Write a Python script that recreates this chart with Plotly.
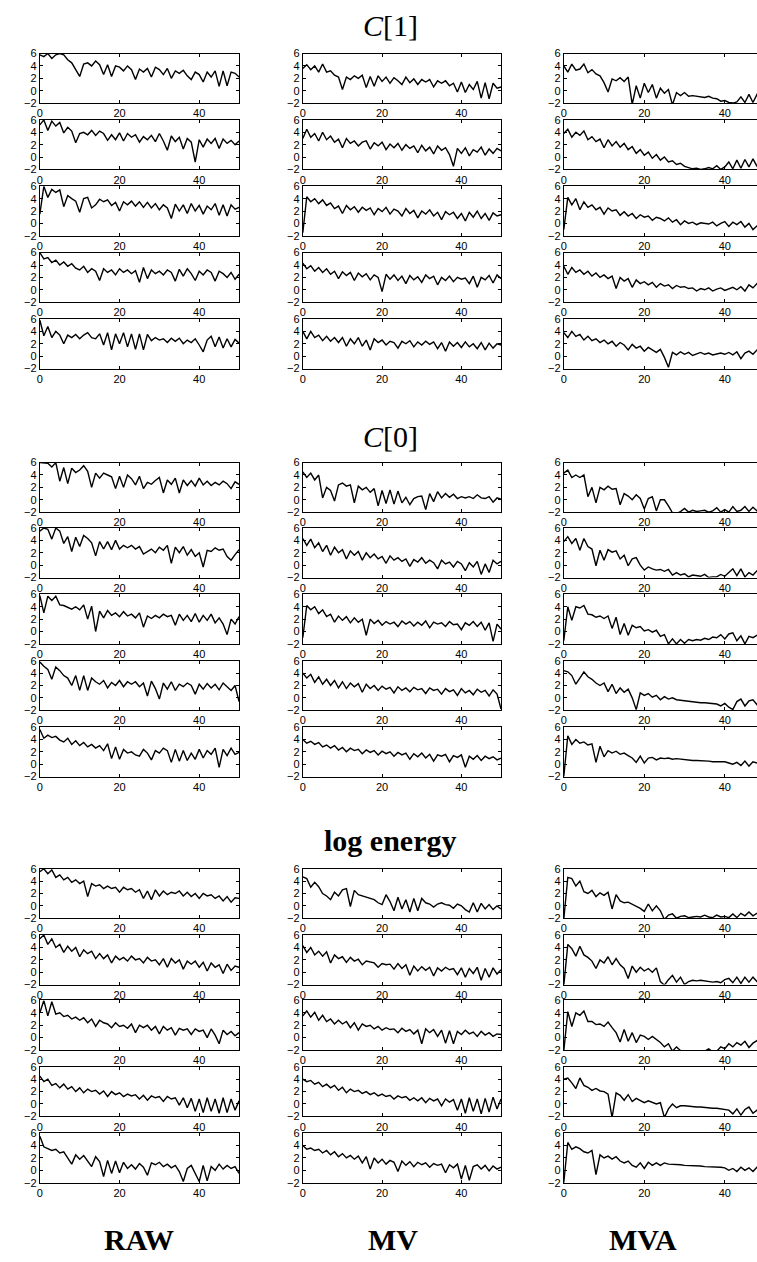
import plotly.graph_objects as go

x_vals = list(range(51))
x_ticks = [0, 20, 40]
y_ticks = [-2, 0, 2, 4, 6]

group_titles = ["<i>C</i>[1]", "<i>C</i>[0]", "<b>log energy</b>"]
column_labels = ["<b>RAW</b>", "<b>MV</b>", "<b>MVA</b>"]

# ---------------- C[1] ----------------
c1_raw = [
    [5.8,5.5,6,5.2,5.8,6,5.8,5,4.5,3.5,2.3,4.3,4.5,4,4.8,4.2,2.6,4.2,2.3,4,3.8,3.2,4,3.4,1.8,3.5,3,3.6,2.2,3.8,3.4,2.6,3.6,2,3.2,2.8,3.3,2.4,1.8,3,2.6,1.4,3,2.2,3.2,0.7,3.2,0.8,3,2.8,2.2],
    [5.2,6,4.3,5.8,5,5.6,3.9,4.8,4.2,2.3,3.8,4,3.6,4.3,3.5,4.2,3.8,2.7,3.6,2.8,3.9,2.6,3.8,3.2,3.6,2.4,3.3,2.8,3.5,2.5,3.8,2.6,1.1,3.4,2.5,3.2,1.3,3,2.4,-0.8,2.8,1.6,2.9,2.2,3,1.4,2.9,2.2,2.7,2,2.6],
    [1.5,6,4.2,5.5,5,5.4,2.7,4.5,4,3.6,1.8,4,4.2,2.5,3,3.9,3.5,3.8,2.9,3.4,2,3.5,3,3.6,2.8,3.5,2.6,3.4,2.5,3.2,2.2,3,2.5,0.8,3.1,2,3,1.6,3.2,2,2.9,1.5,2.8,2.2,3.2,1.3,3,1.2,3,2.3,2.6],
    [6,5,5.2,4.4,4.8,4,4.5,3.8,4.2,3.5,3.2,3.8,2.8,3.4,3,1.5,3.4,2.8,3.2,2.4,3.4,2.8,3.2,2.6,3.1,1.2,3.6,1.8,3.2,2.6,3,2.4,3.2,2.8,1.4,3.3,2.2,3.4,2.6,1.5,3,2.4,3.2,2.8,1.4,3,2.6,2,2.8,1.7,2.5],
    [5.8,3.3,4.8,3,4,3.4,2,3.4,3,3.5,2.8,3.4,3.8,3,2.8,3.6,1.8,3.8,1,3.6,2,3.8,1.5,3.6,1.1,3.6,1,3.5,2.5,3,2.6,2.8,2.2,2.9,2.4,2.9,2,2.6,2.2,2.8,1.8,0.7,2.6,3.2,1.5,3.1,1.3,2.8,1.5,2.7,2.1],
]
c1_mv = [
    [3.6,4.2,3.4,4,3,4.3,3,3.2,2.5,2.2,0.2,2.2,1.8,2.4,2,2.5,0.5,2.3,0.7,2.4,1.5,2.2,1.2,2.1,1.6,1,2.2,1.3,1.9,1,1.8,1.4,1.8,0.6,1.6,1.2,1.6,0.8,1.2,-0.2,1.4,-0.3,1,0.2,1.5,-1.2,1.3,-1.3,1.2,0.4,0.6],
    [3,4.5,3.2,3.8,2.6,4,2.8,3.4,2.4,2.9,1.5,3,2.2,2.6,1.8,2.4,2.6,1.3,2.3,1.8,2.4,1.2,2.1,1.5,2.2,1.1,2,1.4,1.8,0.7,1.9,1,1.6,0.5,1.8,1.1,1.5,0.4,-1.5,1.4,0.6,1.5,0.2,1.2,0.8,1.6,0.3,1.3,0.6,1.4,1],
    [-1.5,4.3,3.5,4,3.2,3.8,2.9,3.3,2.4,2.8,1.6,2.9,2.2,2.7,1.8,2.6,2.1,2.5,1.4,2.4,1.9,2.6,1.5,2.3,2,1.2,2.4,1.6,2.1,0.9,2,1.5,2.2,1.2,1.8,0.6,1.9,1.4,1.8,0.8,1.6,0.4,1.8,1,2,0.8,1.6,0.5,1.7,1.2,1.4],
    [4.3,3.4,3.9,3,3.6,2.8,3.4,2.5,3,1.8,2.9,2.3,2.8,1.5,2.7,2.1,2.6,1.6,2.4,2,-0.3,2.5,1.7,2.4,1.5,2.2,1,2.3,1.6,2.1,1.2,2.4,1.8,2.2,0.8,2,1.5,2.2,1.3,2,1.7,1.9,1,2.2,0.4,2,1.6,2.3,1.1,2.4,1.8],
    [4,2.8,4,3,3.4,2.5,3.2,2.4,3,2.2,3,1.6,2.8,2,3,1.6,2.6,1,2.8,2.2,2.6,1.8,2.4,2.2,1.3,2.4,2,2.5,1.5,2.3,1.8,2.4,1.9,2.3,1.2,2.2,0.8,2.3,1.6,2.2,1.4,2.3,1.5,2,1.2,2.2,1,2.1,1.3,2,1.8],
]
c1_mva = [
    [4,3,4.3,3.3,3.5,4.3,2.9,3.4,2.7,2.4,1.3,-0.2,1.9,1.6,2.1,1.5,2.2,-2.2,0.8,-1.2,1.2,-0.3,1,-1.2,0.4,-0.4,0.2,-2.3,-0.3,-0.8,-0.3,-0.9,-0.8,-0.9,-0.9,-1.1,-0.9,-1.2,-1.3,-1.7,-1.6,-1.9,-2,-1.8,-1,-1.9,-0.6,-1.9,-0.6,-1.5,-0.7],
    [3.8,4.5,3.2,4,3.5,4.2,2.8,3.3,2.5,2.9,1.5,2.8,1.8,2.5,1.6,2.2,1.2,1.7,0.6,1.2,0.3,0.8,-0.2,0.4,-0.5,0,-0.8,-0.6,-1.2,-1,-1.5,-1.7,-1.9,-1.8,-2,-1.9,-1.7,-1.9,-1.4,-2,-1.6,-0.8,-1.9,-0.5,-1.8,-0.4,-1.6,-0.3,-1.5,-0.2,-0.8],
    [-1,4.2,3,4,2.2,3.5,2.6,3,2.2,2.6,1.5,2.5,2,2.2,1.3,1.9,1.2,1.6,0.8,1.4,1,1.2,0.5,1,0.8,0.4,0.9,0.2,0.6,-0.2,0.4,0,0.2,-0.2,0.1,0,-0.1,0.2,-0.4,0,0.3,-0.5,0.2,-0.2,0.3,-0.6,0,-1,-0.4,-1,-0.8],
    [3.8,2.5,3.6,2.8,3.2,2.5,3,2.2,2.7,2,2.4,1.8,2.2,0.2,2,1.4,1.8,0.4,1.6,1,1.3,0.8,1.2,0.4,1,0.6,0.8,0.2,0.7,0.4,0.5,0.2,0.3,-0.2,0.2,0,0.3,-0.2,0.1,0.3,-0.1,0.2,0.4,0,0.5,-0.2,0.8,0.3,1,0.2,0.7],
    [3.8,3,4,3.2,3.5,2.6,3.2,2.5,2.8,2.2,2.6,2,2.4,1.6,2.2,1.8,1,1.9,1.3,1.6,0.8,1.4,1,0.6,1.1,-0.2,-1.8,0.6,0.2,0.7,0.3,0.6,0.1,0.4,0.6,0.3,0.5,0.2,0.4,0.5,0.3,0.6,0.2,0.7,-0.4,0.5,0.8,0.3,1,0.2,0.6],
]

# ---------------- C[0] ----------------
c0_raw = [
    [6,6,5.9,5.3,6,3,5.2,2.6,5.1,4.4,4.8,5.5,4.6,2,4.3,3.5,4.3,4,3.7,1.8,3.8,2,4,3.4,2.4,3.8,1.8,2.8,2.5,3.1,3.6,1.1,3.2,2.5,3.5,1.1,3.2,2.3,3.1,2.2,3.5,2.4,3,2.3,2.8,2.4,3,2.6,1.8,2.9,2.5],
    [5.5,6,5.8,4.2,6,5.5,3.5,4.6,2.2,4.5,3,4.8,4.3,3.6,1.5,3.8,2.6,3.8,2.5,4,2.6,3.2,2.8,3.2,2.6,3,1.8,2.2,2.6,2,2.9,2.4,3.2,0.3,2.9,2,3,1.6,2.5,1.4,2,-0.3,2.4,2.2,2.8,2.4,2.6,1.4,0.8,1.7,2.5],
    [5.8,3,5.7,5,5.7,4.3,4.2,3.9,3.6,4,3.5,4.3,2,4.1,0,3.3,2.2,3.4,2.6,3,2.4,3.2,2.5,2.8,2.2,3,0.7,2.5,2.1,2.6,2.2,2.8,2.4,2.6,1,2.8,1.8,2.6,1.6,2.9,1.5,2.6,1.8,2.8,1.4,2.2,1.2,-0.5,2,1.2,2.4],
    [5.8,5.1,4.6,3,5,4.4,3.6,3.2,2,3.6,1.2,3.6,1.2,3.2,2.6,2.2,2.8,1.6,2.5,2,2.8,1.8,2.6,2.2,2.6,1.8,2.4,0.3,2.7,1.5,-0.2,2.4,1.4,2.6,1.2,2.2,1.8,2.4,2,0.6,2.2,1.4,2.3,1.6,2.2,1.3,2.4,1.8,1.2,2,-0.6],
    [5.6,4.2,4.7,4.3,4.5,3.9,3.6,4.2,3.2,3.8,3,3.5,2.8,3.2,2.6,3,2.2,3.3,0.9,2.8,0.8,2.4,1.8,2,1.5,1.3,2.4,1.8,0.7,2.2,1.8,2.6,2.2,0.3,2.4,0.5,2.2,0.6,1.8,0.8,2.4,1,2.2,1.6,2.6,-0.5,2.4,1.4,2.6,1.6,1.9],
]
c0_mv = [
    [4.5,3.6,4.3,3.2,4,0.3,2,1.5,-0.2,2.4,2.7,2.2,2.4,-0.5,2.2,1.6,2,1.2,1.8,-1,1.5,-0.6,1.6,-0.7,1.4,-0.5,0.4,-0.8,0.2,0.5,0.6,-1.6,1,-0.3,1.3,0.3,1,0.4,0.9,0.2,0.5,0.3,0.5,0.2,0.8,0.3,0.2,0.5,-0.4,0.3,0.1],
    [4.3,3.2,4.2,2.8,3.6,2.2,3.2,1.6,2.9,2,2.5,1,2.3,1.6,2.2,0.8,2,1.2,1.8,1,1.4,0.3,1.5,0.8,1.2,0.6,1,-0.2,0.9,0.5,1.2,0.3,0.8,0.4,-0.6,0.8,0.2,0.5,-0.3,0.6,0.2,-0.9,0.4,-0.3,0.6,-1.5,0.2,-1.2,0.8,0.2,0.6],
    [-1,4.2,3.5,4,2.9,3.5,2.4,2.8,1.5,2.5,1.8,2.4,1.4,2.2,1.5,2,-0.6,2,1.3,1.8,1,1.6,1.2,1.5,0.8,1.7,1.2,1.6,0.9,1.5,1,1.7,0.6,1.5,1.2,1.4,0.8,1.6,1.1,1.2,0.3,1.4,1,1.6,0.8,1.5,0.2,1.4,-1.6,1.2,0.4],
    [4,3.2,3.8,2.5,3.4,2.2,3,2,2.8,1.6,2.6,1.5,2.4,1.8,2.3,0.9,2.2,1.5,2,1.2,1.9,1.4,1.7,0.8,1.8,1.2,1.6,1,1.7,1.3,1.5,0.7,1.6,1.2,1.4,0.6,1.5,1,1.3,0.4,1.5,0.8,1.2,0.5,1.4,0.9,1.2,0.3,1.3,0.6,-1.8],
    [4,3.4,3.7,3.2,3.5,2.8,3.1,2.6,3,2.3,2.7,2,2.6,2.2,2.4,1.7,2.3,1.9,2.2,1.5,2.1,1.7,2,1.3,1.9,1.5,1.8,0.8,1.7,1.2,1.8,1,1.6,0.5,1.5,1.3,1.6,0.4,1.4,1.1,1.5,-0.5,1.3,0.8,1.4,0.6,1.3,0.9,1.2,0.7,1],
]
c0_mva = [
    [4.3,4.8,3.6,4,3.6,4,0.5,2,-0.5,2,1.6,2.2,1.7,1.8,-0.8,1,0.6,0,0.8,0.2,-1.5,0.2,0.5,-1.8,0,0,-1,-2.1,-2.2,-1.9,-1.4,-2,-1.7,-1.9,-1.8,-1.7,-2,-1.8,-1.3,-2,-1.6,-2,-1.1,-1.9,-1.7,-1.1,-1.9,-1.2,-1.8,-1.4,-1.5],
    [3.8,4.6,3.5,4.3,2.4,4.3,3,2.6,-0.1,2.4,0.8,2.5,2.1,2.3,1,1.6,-0.1,1,1.2,0,-0.8,-0.3,-0.6,-0.8,-0.7,-1,-0.7,-1.6,-1.2,-1.6,-1.4,-1.9,-1.6,-1.7,-1.8,-1.5,-2,-1.9,-1.9,-1.5,-1.8,-1.2,-0.6,-1.7,-0.6,-1.9,-1.2,-1.6,-0.9,-1.7,-1.6],
    [-1.5,4,1.8,4,3.8,4.2,2.8,2.7,2.3,2.5,2.1,2.5,0.5,2.3,-0.5,1.3,-0.6,1,0.6,0.8,0.1,0.3,-0.1,0.2,-0.8,-0.5,-2,-1.2,-2,-1.3,-1.9,-1.3,-1.5,-1.3,-1.4,-1.1,-1.3,-0.9,-1,-0.5,-1.2,-0.4,-0.2,-1.5,-0.7,-2,-0.8,-1,-0.6,-0.8,-0.5],
    [4.4,4.2,3.6,2.2,3.2,4.2,3.4,3,2.4,2,2.4,1,2.2,0.7,1.6,0.9,1.4,0,-1.9,0.8,0.4,0.7,0.1,0.4,-0.3,0.2,-0.2,0,-0.3,-0.4,-0.5,-0.6,-0.6,-0.7,-0.8,-0.8,-0.9,-1,-1,-1.3,-0.9,-1.5,-1.9,-0.6,-0.2,-1.3,-0.5,-0.3,-1.1,-0.6,-1],
    [-2,4.6,3.2,4,3.4,3.6,3.1,3.3,0.3,2.9,1.2,2.2,1.8,2.1,1.6,1.8,1.4,1,0.3,1.3,0.2,1,1.1,0.7,1,0.9,1,0.8,0.9,0.8,0.8,0.7,0.6,0.6,0.6,0.6,0.5,0.4,0.4,0.3,0.4,0.2,0,0.3,-0.2,0.5,-0.3,0.4,0.2,0.5,0.3],
]

# ---------------- log energy ----------------
le_raw = [
    [5.5,6,5.2,5.8,4.6,5,4.2,4.6,3.8,4.2,3.6,4,1.5,3.6,3.2,3.4,2.8,3.2,2.8,3,2.2,3,2.6,2.8,2.2,2.6,1.2,2.4,1,2.6,1.6,2.4,1.8,2.2,2,2.4,1.6,2.2,1.5,2,1.2,2,1.6,1.8,1.2,1.6,0.8,1.5,0.6,1.3,1.2],
    [5.4,6,4.5,5.4,4,4.5,3.2,4.2,3.4,4,2.5,3.6,3,3.4,2.2,3,2.2,2.8,1.5,2.6,2,2.4,1.8,2.6,2,2.2,1.5,2.4,1.8,2,1.2,2.2,0.8,2.2,1.5,2,0.5,1.8,1.3,1.8,0.8,1.6,0.2,1.5,0.8,1.2,-0.2,1.3,0.3,1,0.8],
    [4,6,3.5,5.8,3.8,4,3.4,3.6,3,3.3,2.8,3.2,2.4,3,1.8,2.8,2.4,2.2,1.6,2.4,1.8,2,1.5,2.2,0.8,2,1.6,2,1.2,1.8,0.6,1.8,1.2,1.6,0.4,1.5,1.2,1.4,0.5,1.4,1,1.2,0,1.4,0.4,-1,1.2,0.5,1,0.3,0.8],
    [4.5,3.6,4,3,3.3,2.6,3.2,2.4,2.8,2,2.6,1.8,2.4,2,2.2,1.6,2.1,1.2,2,1.5,1.8,1.2,1.6,1.3,1.5,0.8,1.4,0.6,1.3,1,1.2,0.4,1.2,0.8,1,-0.2,1,-0.6,0.9,-1.2,0.8,-1.4,1,-1.2,0.8,-1.5,1,-1.4,0.8,-1,0.5],
    [5.5,3.8,3.5,3.2,3.4,2.8,3,2,1,2.5,1.8,2.4,1.5,0.6,2.2,1.4,-1,1.6,-0.5,1.5,-0.4,1.3,0.3,0.9,0.2,1.1,0.5,-0.8,1.2,0.9,1.3,0.6,1,0.4,0.8,-0.2,-1.8,0.3,0.8,-0.6,-1.8,0.8,-1.7,0.6,0,1,0.2,0.8,0.3,0.6,-0.5],
]
le_mv = [
    [4.7,4.4,3,3.8,3.1,2,1.6,1,2.2,1.6,2.6,2.8,-0.1,2.5,1.8,1.6,1.4,1.3,1,0.5,0.2,1.8,0.7,-0.8,1.4,-0.5,1,-1,1.2,-0.8,1.2,0.5,0.3,-0.2,0.3,0.5,0.2,0.1,-0.4,0.3,0,-0.6,-1,0.5,-1,0.4,-0.5,0.2,-0.6,0,-0.5],
    [4.3,3.2,4,2.8,3.4,2.6,3.3,1.5,2.8,2.2,2.5,1.6,2.4,1.8,2.1,1.2,1.8,1.6,1.5,0.8,1.4,1.2,1.3,0.5,1.4,0.6,1.2,-0.5,1,0.2,0.9,0.3,0.8,-0.6,0.7,0.2,0.8,0.4,0.6,-0.4,0.7,-0.8,0.6,-0.2,0.8,-1.3,0.6,-0.8,0.7,-0.3,0.4],
    [3.5,4.3,3.3,4.1,2.8,3.6,2.6,3,2.2,2.8,2.2,2.6,1.6,2.4,1.2,2.2,1.8,2,1.4,1.8,1.2,1.6,1.3,1.4,0.8,1.5,1,1.3,0.6,1.2,-1,1.4,0.8,1.3,0.2,1.2,-0.9,1.1,-1,1,0.5,1.2,0.6,0.9,0.2,1,0.4,0.8,0.2,0.6,0.5],
    [4,3.6,3.8,3.2,3.5,2.8,3.2,2.6,3,2.2,2.7,1.8,2.4,2,2.2,1.7,2,1.5,1.8,1.3,1.6,1.2,1.4,0.8,1.3,1,1.2,0.6,1,0.5,1,0.2,0.9,0.5,0.8,-0.3,0.8,0.3,0.7,-1,0.8,-1.5,1,-1.2,0.8,-1.6,0.9,-1.3,1.1,-0.8,0.8],
    [4,3.4,3.6,3.2,3.4,2.8,3.2,2.5,3,2.2,2.7,2,2.4,1.8,2.3,1.2,2.2,0.2,2,1.2,1.8,1,1.6,1.3,-0.2,1.5,0.8,1.4,0.6,1.3,0.9,1.2,0.5,1.1,0.8,1,-0.4,0.9,0.4,1,-1.4,0.8,-1.6,0.6,0.9,0.2,0.8,-0.1,0.7,0.2,0.5],
]
le_mva = [
    [-2.2,4.6,4.4,3.2,4,2.3,2,2.5,1.5,2.1,1.7,2.2,-0.5,1.8,0.8,0.5,0.6,0.3,0,-0.4,-0.9,0.3,-0.8,0,-0.8,-2.2,-1.5,-1.3,-2,-1.7,-1.6,-1.9,-1.8,-1.7,-1.8,-1.5,-1.8,-1.9,-1.5,-1.8,-1.7,-1.9,-1.3,-1.9,-1.2,-1.6,-1,-1.6,-1.2,-1.5,-1.4],
    [-2.2,4.5,3.8,2.6,4.2,2.8,2.4,1.8,0.6,2,1.5,2.5,1.2,2.2,1.2,0.6,-1,1,0,0.8,0.2,0.6,0,0.7,-1.5,-2.1,-1.2,-0.5,-1.6,-0.8,-2,-1.5,-1.3,-1.4,-1.3,-1.4,-1.4,-1.6,-1.5,-1.7,-1.2,-1,-1.7,-0.8,-1.8,-0.8,-1.6,-0.8,-1.5,-1,-1.3],
    [-2.2,4.2,1.8,4,3.6,4.3,2.6,2.6,2.1,2.2,1.8,2.5,1.6,0.8,-0.7,1.3,-0.6,0.8,-0.8,0.4,0.2,-0.3,0.2,-0.3,-0.8,-1.5,-1,-2.2,-1.5,-2.1,-2.3,-2.2,-2.4,-2.3,-2.4,-2.2,-1.8,-2.3,-2.2,-1.5,-1.8,-1,-1.5,-0.8,-1.2,-0.6,-1.6,-0.9,-0.5,-1.1,-0.6],
    [4,4.2,3.4,2.5,4.2,3,2.7,2.2,2.5,2.1,2,1.6,-2.2,1.8,1.4,0.6,1.5,0.4,0.9,0.6,0.2,0.5,0.3,0,0.2,-2.2,-0.8,0,-0.6,-0.3,-0.3,-0.4,-0.4,-0.5,-0.5,-0.6,-0.6,-0.7,-0.7,-0.8,-0.9,-1,-1.6,-0.8,-1.8,-0.9,-0.5,-1.5,-1,-1.4,-1.5],
    [-2,4.5,3.4,3.8,3.5,3,2.8,3.2,-0.7,2.5,2,2.3,1.8,2.2,1.5,1.2,1.5,0.8,0.5,1.2,0.3,1.3,0.8,1.2,0.8,1.2,1,1,0.9,0.9,0.8,0.8,0.7,0.7,0.7,0.6,0.6,0.6,0.5,0.5,0.4,0,0.3,-0.2,0.5,0,0.4,-0.2,0.5,0.1,-0.8],
]

groups = [
    [c1_raw, c1_mv, c1_mva],
    [c0_raw, c0_mv, c0_mva],
    [le_raw, le_mv, le_mva],
]

W, H = 757, 1262
col_left = [37, 301, 563]
col_right = [237, 500, 757]
col_xmax = [50, 50, 48]
row_tops = [
    [48, 115, 182, 249, 316],
    [461, 527, 594, 661, 728],
    [871, 938, 1004, 1071, 1138],
]
panel_h = 50

fig = go.Figure()
layout_axes = {}
tick_font = dict(family="Liberation Sans, Arial, sans-serif", size=11, color="black")

k = 0
for g, cols in enumerate(groups):
    for c, series_list in enumerate(cols):
        for r, series in enumerate(series_list):
            assert len(series) == len(x_vals), (g, c, r, len(series))
            k += 1
            xa = "x" if k == 1 else f"x{k}"
            ya = "y" if k == 1 else f"y{k}"
            fig.add_trace(go.Scatter(
                x=x_vals, y=series, mode="lines",
                line=dict(color="black", width=1.4),
                xaxis=xa, yaxis=ya, showlegend=False, hoverinfo="skip",
            ))
            top = row_tops[g][r]
            xname = "xaxis" if k == 1 else f"xaxis{k}"
            yname = "yaxis" if k == 1 else f"yaxis{k}"
            layout_axes[xname] = dict(
                domain=[col_left[c] / W, col_right[c] / W],
                range=[0, col_xmax[c]], anchor=ya,
                tickvals=x_ticks, ticks="inside", ticklen=3, tickcolor="black",
                showline=True, linecolor="black", linewidth=1, mirror="ticks",
                showgrid=False, zeroline=False, tickfont=tick_font,
                fixedrange=True,
            )
            layout_axes[yname] = dict(
                domain=[1 - (top + panel_h) / H, 1 - top / H],
                range=[-2, 6], anchor=xa,
                tickvals=y_ticks, ticks="inside", ticklen=3, tickcolor="black",
                showline=True, linecolor="black", linewidth=1,
                mirror=("ticks" if c < 2 else False),
                showgrid=False, zeroline=False, tickfont=tick_font,
                fixedrange=True,
            )

title_font = dict(family="Liberation Serif, Times New Roman, serif", size=30, color="black")
title_pos = [(389, 20), (389, 435), (389, 843)]
label_pos = [(137, 1245), (392, 1245), (643, 1245)]
annotations = []
for text, (px, py) in zip(group_titles, title_pos):
    annotations.append(dict(text=text, x=px / W, y=1 - py / H, xref="paper", yref="paper",
                            xanchor="center", yanchor="middle", showarrow=False, font=title_font))
for text, (px, py) in zip(column_labels, label_pos):
    annotations.append(dict(text=text, x=px / W, y=1 - py / H, xref="paper", yref="paper",
                            xanchor="center", yanchor="middle", showarrow=False, font=title_font))

fig.update_layout(
    width=W, height=H,
    margin=dict(l=0, r=0, t=0, b=0),
    paper_bgcolor="white", plot_bgcolor="white",
    annotations=annotations,
    **layout_axes,
)

fig.write_html(
    "out.html",
    config={"displayModeBar": False, "staticPlot": True},
    post_script="document.body.style.margin='0';document.body.style.padding='0';"
                "document.body.style.overflow='hidden';"
                "document.documentElement.style.overflow='hidden';",
)
